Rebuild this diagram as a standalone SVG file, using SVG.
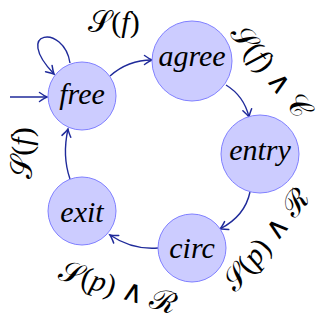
<svg xmlns="http://www.w3.org/2000/svg" width="321" height="322" viewBox="0 0 321 322">
<style>
.node circle{fill:#ccccff;stroke:#8080ff;stroke-width:1}
.node text{font-family:"Liberation Serif","DejaVu Serif",serif;font-style:italic;font-size:30px;text-anchor:middle;fill:#000}
.edge{fill:none;stroke:#1f2a9a;stroke-width:1.4}
.lbl{font-family:"Liberation Serif","DejaVu Serif",serif;font-size:30px;text-anchor:middle;fill:#000}
.it{font-style:italic}
</style>
<defs>
<marker id="ah" markerUnits="userSpaceOnUse" markerWidth="14" markerHeight="14" refX="0" refY="0" viewBox="-10 -7 12 14" orient="auto">
<path d="M-7.5,-4.5 Q-2.5,-1 0,0 Q-2.5,1 -7.5,4.5" fill="none" stroke="#1f2a9a" stroke-width="1.5" stroke-linecap="round"/>
</marker>
</defs>
<g id="connectors">
<path class="edge" d="M10,97 L47,97" marker-end="url(#ah)"/>
<path class="edge" d="M70,63 C64,24 12,30 54,74" marker-end="url(#ah)"/>
<path class="edge" d="M110,76 Q128,60 152,60" marker-end="url(#ah)"/>
<path class="edge" d="M226,85 Q244,96 249,117" marker-end="url(#ah)"/>
<path class="edge" d="M250,192 Q245,216 220,229" marker-end="url(#ah)"/>
<path class="edge" d="M158,248 Q132,250 110,235" marker-end="url(#ah)"/>
<path class="edge" d="M70,179 Q62,156 68,129" marker-end="url(#ah)"/>
</g>
<g id="labels">
<text class="lbl" x="114" y="32">𝒮(<tspan class="it">f</tspan>)</text>
<text class="lbl" transform="translate(271,71) rotate(52)" x="0" y="10" font-size="28">𝒮(<tspan class="it">f</tspan>) ∧ 𝒞</text>
<text class="lbl" transform="translate(266,240) rotate(-51)" x="0" y="10" font-size="29">𝒮(<tspan class="it">p</tspan>) ∧ ℛ</text>
<text class="lbl" transform="translate(118,287) rotate(17)" x="0" y="10" font-size="29">𝒮(<tspan class="it">p</tspan>) ∧ ℛ</text>
<text class="lbl" transform="translate(22,153) rotate(-90)" x="0" y="10">𝒮(<tspan class="it">f</tspan>)</text>
</g>
<g id="free" class="node"><circle cx="82" cy="96" r="34"/><text x="82" y="104">free</text></g>
<g id="agree" class="node"><circle cx="192" cy="61" r="40"/><text x="192" y="66">agree</text></g>
<g id="entry" class="node"><circle cx="260" cy="154" r="39"/><text x="260" y="160">entry</text></g>
<g id="circ" class="node"><circle cx="192" cy="248" r="34"/><text x="192" y="258">circ</text></g>
<g id="exit" class="node"><circle cx="82" cy="211" r="34"/><text x="82" y="222">exit</text></g>
</svg>
